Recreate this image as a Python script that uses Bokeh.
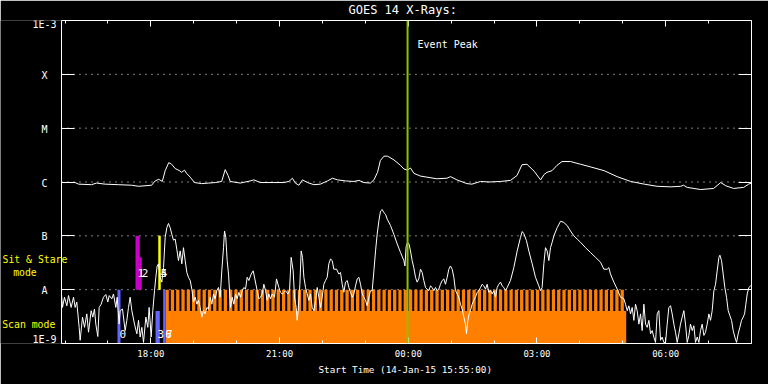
from datetime import datetime, timedelta
from bokeh.plotting import figure
from bokeh.models import (ColumnDataSource, FixedTicker, DatetimeTickFormatter, Range1d, Label, LabelSet,
                          Span, DatetimeAxis, LogAxis, CustomJSTickFormatter, Title)
from bokeh.core.properties import value
from bokeh.embed import file_html
from bokeh.resources import INLINE

# ---------------- data ----------------
START = datetime(2015, 1, 14, 15, 55)
END = datetime(2015, 1, 15, 8, 0)
EVENT_PEAK = datetime(2015, 1, 14, 23, 59)

TITLE = "GOES 14 X-Rays:"
X_LABEL = "Start Time (14-Jan-15 15:55:00)"
EVENT_LABEL = "Event Peak"
Y_TICKS = [1e-9, 1e-8, 1e-7, 1e-6, 1e-5, 1e-4, 1e-3]
Y_TICK_LABELS = ["1E-9", "A", "B", "C", "M", "X", "1E-3"]
X_MAJOR_TICKS = [datetime(2015, 1, 14, 18), datetime(2015, 1, 14, 21), datetime(2015, 1, 15, 0),
                 datetime(2015, 1, 15, 3), datetime(2015, 1, 15, 6)]
MODE_LABELS = ["Sit & Stare", "mode", "Scan mode"]

# GOES long channel (1-8 A): (minutes after start, log10 flux W/m^2)
xrs_long = [(0, -6.01), (19, -6.01), (24, -6.04), (42, -6.05), (49, -6.02), (61, -6.04), (80, -6.05),
            (98, -6.06), (108, -6.08), (126, -6.06), (131, -5.98), (136, -5.95), (141, -5.99), (145, -5.79),
            (150, -5.64), (154, -5.67), (159, -5.75), (165, -5.79), (168, -5.82), (172, -5.78), (175, -5.84),
            (180, -5.91), (186, -6.01), (196, -6.03), (206, -6.02), (215, -6.01), (224, -5.99), (229, -5.77),
            (233, -5.88), (236, -5.99), (250, -6.02), (264, -5.98), (269, -5.96), (278, -6.01), (297, -6.01),
            (311, -6.01), (318, -5.99), (323, -5.93), (327, -6.02), (332, -6.06), (337, -5.96), (344, -6.01),
            (353, -6.05), (362, -6.04), (372, -5.98), (379, -5.93), (386, -5.96), (397, -5.98), (409, -5.99),
            (416, -5.97), (423, -6.01), (432, -6.02), (437, -5.96), (442, -5.82), (446, -5.60), (451, -5.52),
            (456, -5.52), (465, -5.59), (474, -5.69), (479, -5.76), (484, -5.78), (488, -5.74), (493, -5.84),
            (502, -5.89), (511, -5.91), (525, -5.94), (539, -5.93), (544, -5.90), (553, -5.96), (567, -6.03),
            (574, -6.04), (586, -5.99), (598, -6.00), (614, -5.99), (628, -5.97), (637, -5.88), (644, -5.68),
            (651, -5.67), (661, -5.80), (670, -5.96), (675, -5.86), (679, -5.82), (686, -5.79), (693, -5.69),
            (700, -5.62), (712, -5.62), (726, -5.67), (740, -5.72), (759, -5.79), (777, -5.90), (796, -5.99),
            (815, -6.04), (833, -6.08), (852, -6.09), (866, -6.08), (870, -6.06), (875, -6.10), (894, -6.14),
            (912, -6.12), (922, -6.01), (929, -6.07), (940, -6.12), (954, -6.10), (961, -6.04), (965, -6.02)]

# GOES short channel (0.5-4 A): (minutes after start, log10 flux W/m^2)
xrs_short = [(0, -8.08), (1.4, -8.33), (4.2, -8.14), (7.5, -8.30), (9.8, -8.11), (13.5, -8.33), (16.8, -8.14),
             (19.1, -8.33), (21.4, -8.23), (24.7, -8.70), (26.1, -8.94), (29.4, -8.51), (32.2, -8.70),
             (35.4, -8.45), (37.8, -8.79), (41.5, -8.39), (43.8, -8.51), (46.1, -8.36), (48.0, -8.64),
             (50.8, -8.87), (52.7, -8.33), (55.5, -8.27), (58.7, -8.14), (62.0, -8.09), (64.8, -8.23),
             (66.7, -8.11), (70.4, -8.17), (72.7, -8.08), (76.0, -8.33), (77.9, -8.14), (80.6, -8.64),
             (82.0, -8.39), (85.3, -8.36), (89.0, -8.76), (91.4, -8.57), (93.7, -8.33), (96.0, -8.14),
             (98.4, -8.39), (102.1, -8.64), (105.4, -8.82), (107.7, -8.57), (110.0, -8.88), (112.4, -8.70),
             (114.7, -8.98), (118.0, -8.51), (120.7, -8.70), (122.6, -8.33), (125.4, -8.88), (127.7, -8.39),
             (130.1, -8.02), (131.9, -7.77), (133.8, -7.56), (135.7, -7.52), (138.0, -7.77), (140.3, -7.86),
             (142.7, -7.59), (145.0, -7.03), (147.3, -6.85), (149.6, -6.77), (152.0, -6.85), (154.3, -6.97),
             (156.6, -7.08), (159.0, -7.06), (161.3, -7.25), (163.6, -7.46), (166.0, -7.28), (168.3, -7.52),
             (170.6, -7.22), (173.0, -7.46), (175.3, -7.68), (177.6, -7.77), (180.0, -7.83), (182.3, -7.99),
             (184.6, -8.23), (187.0, -8.14), (189.3, -8.27), (191.6, -8.20), (193.9, -8.33), (196.3, -8.51),
             (198.6, -8.39), (200.9, -8.45), (203.3, -8.33), (205.6, -8.36), (207.9, -8.14), (210.3, -8.27),
             (212.6, -8.08), (214.9, -8.17), (217.2, -8.02), (219.6, -7.96), (221.9, -8.14), (224.2, -7.65),
             (226.6, -7.22), (228.0, -6.91), (229.8, -7.03), (231.7, -7.46), (233.6, -7.71), (236.4, -8.33),
             (238.7, -8.14), (241.1, -8.27), (243.4, -8.08), (245.7, -8.17), (248.1, -8.05), (250.4, -8.14),
             (252.7, -8.02), (255.0, -7.96), (257.4, -7.99), (259.7, -7.77), (262.0, -7.83), (265.3, -7.71),
             (268.1, -7.65), (270.4, -7.80), (273.7, -8.02), (276.0, -8.17), (278.4, -8.14), (280.7, -8.08),
             (283.0, -7.90), (285.4, -8.02), (287.7, -8.20), (290.0, -8.08), (292.3, -8.17), (294.7, -8.08),
             (297.9, -8.14), (300.7, -7.80), (304.0, -7.96), (306.3, -8.05), (308.7, -8.08), (313.3, -8.02),
             (316.6, -8.08), (318.9, -8.02), (321.2, -7.40), (324.0, -7.65), (325.9, -8.14), (328.2, -8.33),
             (329.6, -8.57), (331.0, -8.39), (333.4, -7.90), (335.2, -7.28), (337.1, -7.40), (339.0, -7.77),
             (341.3, -7.96), (343.6, -8.08), (346.0, -8.20), (348.3, -8.08), (350.6, -8.33), (353.0, -8.39),
             (355.3, -8.20), (357.6, -7.96), (359.9, -8.14), (362.3, -8.33), (364.6, -8.14), (366.9, -7.90),
             (369.3, -7.83), (371.6, -7.77), (373.9, -7.52), (376.3, -7.43), (378.6, -7.46), (380.9, -7.62),
             (384.7, -7.62), (387.9, -7.71), (390.2, -7.68), (392.6, -7.90), (394.9, -8.05), (397.2, -7.86),
             (399.6, -7.83), (401.9, -7.96), (404.2, -8.05), (406.6, -8.14), (408.9, -8.08), (411.2, -7.93),
             (413.6, -7.80), (415.9, -7.77), (418.2, -7.90), (420.6, -8.08), (422.9, -8.14), (425.2, -8.20),
             (427.5, -8.30), (429.9, -8.14), (432.2, -8.02), (434.5, -8.02), (436.9, -7.65), (439.2, -7.28),
             (441.5, -6.97), (443.9, -6.72), (446.2, -6.54), (448.5, -6.51), (450.9, -6.57), (453.2, -6.60),
             (455.5, -6.69), (460.2, -6.81), (464.8, -6.97), (469.5, -7.15), (474.2, -7.31), (478.8, -7.46),
             (480.3, -7.56), (482.0, -7.20), (484.0, -7.12), (486.0, -7.15), (488.1, -7.28), (490.4, -7.46),
             (492.7, -7.59), (495.1, -7.77), (497.4, -7.86), (499.7, -7.80), (502.1, -7.62), (504.4, -7.68),
             (506.7, -7.83), (509.1, -7.96), (511.4, -7.99), (513.7, -8.02), (516.1, -7.93), (518.4, -7.96),
             (520.7, -8.02), (523.1, -7.96), (525.4, -8.02), (527.7, -7.99), (530.0, -7.90), (532.4, -7.83),
             (534.7, -7.80), (537.0, -7.90), (539.4, -7.77), (541.7, -7.62), (544.0, -7.56), (546.4, -7.62),
             (548.7, -7.77), (551.0, -8.02), (553.4, -8.08), (555.7, -8.14), (558.0, -8.27), (560.3, -8.36),
             (562.7, -8.51), (565.0, -8.64), (566.4, -8.82), (568.3, -8.57), (570.1, -8.45), (572.0, -8.39),
             (574.3, -8.27), (576.7, -8.20), (579.0, -8.14), (581.3, -8.05), (583.7, -8.02), (586.0, -7.96),
             (588.3, -7.90), (590.6, -7.93), (593.0, -7.99), (595.3, -7.90), (597.6, -8.05), (600.0, -8.02),
             (602.3, -8.08), (604.6, -8.02), (607.0, -8.14), (609.3, -7.96), (611.6, -7.90), (614.0, -7.86),
             (616.3, -7.93), (618.6, -7.96), (620.9, -8.02), (623.3, -7.96), (627.9, -7.83), (632.6, -7.59),
             (637.3, -7.28), (641.9, -7.03), (644.3, -6.92), (646.6, -6.96), (650.3, -7.09), (653.6, -7.28),
             (658.3, -7.52), (662.9, -7.77), (667.6, -7.93), (669.9, -8.02), (672.2, -7.96), (674.6, -7.52),
             (676.9, -7.22), (679.2, -7.28), (681.6, -7.46), (683.9, -7.22), (686.2, -7.12), (688.6, -7.00),
             (693.2, -6.85), (697.9, -6.73), (702.5, -6.75), (707.2, -6.81), (711.9, -6.91), (716.5, -7.00),
             (721.2, -7.06), (725.9, -7.12), (732.9, -7.22), (739.9, -7.31), (746.9, -7.40), (753.9, -7.49),
             (758.5, -7.62), (763.2, -7.62), (765.5, -7.59), (767.8, -7.71), (772.5, -7.86), (777.2, -7.99),
             (781.8, -8.14), (786.5, -8.17), (788.8, -8.27), (791.2, -8.39), (793.5, -8.30), (795.8, -8.45),
             (798.1, -8.33), (800.5, -8.57), (802.8, -8.27), (805.1, -8.39), (807.5, -8.64), (809.8, -8.45),
             (812.1, -8.76), (814.5, -8.27), (816.8, -8.64), (819.1, -8.70), (821.5, -8.57), (823.8, -8.82),
             (826.1, -8.76), (828.4, -8.88), (830.8, -8.98), (833.1, -8.45), (835.4, -8.39), (837.8, -8.94),
             (840.1, -8.88), (842.4, -8.98), (844.8, -8.98), (847.1, -8.64), (849.4, -8.33), (851.8, -8.30),
             (854.1, -8.45), (856.4, -8.64), (858.7, -8.79), (861.1, -8.98), (863.4, -8.82), (865.7, -8.64),
             (868.1, -8.51), (870.4, -8.39), (872.7, -8.64), (875.1, -8.98), (877.4, -8.85), (879.7, -8.64),
             (882.1, -8.76), (884.4, -8.67), (886.7, -8.98), (889.1, -8.88), (891.4, -8.98), (893.7, -8.76),
             (896.0, -8.64), (898.4, -8.85), (900.7, -8.79), (903.0, -8.64), (905.4, -8.45), (907.7, -8.57),
             (910.0, -8.39), (912.4, -8.02), (914.7, -7.90), (917.0, -7.65), (919.4, -7.40), (920.8, -7.36),
             (923.1, -7.46), (925.4, -7.71), (927.7, -7.96), (930.1, -8.14), (932.4, -8.39), (934.7, -8.48),
             (937.1, -8.57), (939.4, -8.76), (941.7, -8.88), (944.1, -8.98), (946.4, -8.82), (948.7, -8.70),
             (951.1, -8.57), (953.4, -8.51), (955.3, -8.45), (957.1, -8.27), (959.0, -8.08), (961.3, -7.96),
             (963.7, -7.93), (965.0, -7.93)]

# Sit & Stare observations (minutes after start)
ss_ids = ["1", "2", "4", "5"]
ss_start = [103.5, 109.5, 135.7, 135.7]
ss_end = [109.5, 112.3, 138.5, 138.5]
ss_top = [1e-7, 4e-8, 1e-7, 1e-7]
ss_kind = ["magenta", "magenta", "yellow", "yellow"]

# Scan observations (minutes after start)
scan_ids = ["0", "3", "6"]
scan_start = [78.3, 131.5, 142.2]
scan_end = [82.5, 137.5, 145.5]
scan_top = [1e-8, 4e-9, 1e-8]

# Long scan series "7": overall span and individual rasters (minutes after start)
series7_id = "7"
series7_start, series7_end = 145.5, 789.8
raster_starts = [145.5, 152.9, 160.3, 167.7, 175.1, 182.5, 189.9, 197.3, 204.7, 212.1, 219.5, 226.9, 234.3,
                 241.7, 249.1, 256.5, 263.9, 271.3, 278.7, 286.1, 293.5, 300.9, 308.3, 315.7, 323.1, 330.5,
                 337.9, 345.3, 352.7, 360.1, 367.5, 374.9, 382.3, 389.7, 397.1, 404.5, 411.9, 419.3, 426.7,
                 434.1, 441.5, 448.9, 456.3, 463.7, 471.1, 478.5, 485.9, 493.3, 500.7, 508.1, 515.5, 522.9,
                 530.3, 537.7, 545.1, 552.5, 559.9, 567.3, 574.7, 582.1, 589.5, 596.9, 604.3, 611.7, 619.1,
                 626.5, 633.9, 641.3, 648.7, 656.1, 663.5, 670.9, 678.3, 685.7, 693.1, 700.5, 707.9, 715.3,
                 722.7, 730.1, 737.5, 744.9, 752.3, 759.7, 767.1, 774.5, 781.9]
raster_duration = 4.6

# ---------------- helpers / layout ----------------
EPOCH = datetime(1970, 1, 1)
MARGIN_MIN = 85.3          # left label margin expressed in time units (61 px)


def ms(dt):
    return (dt - EPOCH).total_seconds() * 1000.0


def at(minutes):
    return ms(START + timedelta(minutes=minutes))


MONO = "DejaVu Sans Mono"
FONT = value(MONO)
COLORS = {"magenta": "#c800c8", "yellow": "#ffff00", "blue": "#6464ff", "orange": "#ff8000"}

p = figure(width=768, height=384, x_axis_type="datetime", y_axis_type="log", y_axis_location=None,
           x_range=Range1d(at(-MARGIN_MIN), ms(END)), y_range=Range1d(1e-9, 1e-3),
           output_backend="svg", toolbar_location=None, title=TITLE,
           background_fill_color="black", border_fill_color="black",
           min_border_left=0, min_border_right=17, min_border_top=19, min_border_bottom=41)
p.outline_line_color = None
p.xgrid.visible = False
p.ygrid.visible = False

p.title.align = "left"
p.title.vertical_align = "top"
p.title.offset = 348
p.title.standoff = 4
p.title.text_color = "white"
p.title.text_font = MONO
p.title.text_font_size = "12px"
p.title.text_font_style = "normal"

y_ticker = FixedTicker(ticks=Y_TICKS, minor_ticks=[])
x_minor = [ms(datetime(2015, 1, 14, 16) + timedelta(hours=h)) for h in range(16)]
x_ticker = FixedTicker(ticks=[ms(t) for t in X_MAJOR_TICKS], minor_ticks=x_minor)
blank = CustomJSTickFormatter(code="return ''")
hhmm = DatetimeTickFormatter(hours="%H:%M", hourmin="%H:%M", minutes="%H:%M", minsec="%H:%M", days="%H:%M")
plot_bounds = (ms(START), ms(END))


def style_axis(ax, tick_in, minor_in):
    ax.axis_line_color = "white"
    ax.major_tick_line_color = "white"
    ax.minor_tick_line_color = "white" if minor_in else None
    ax.major_tick_in = tick_in
    ax.major_tick_out = 0
    ax.minor_tick_in = minor_in
    ax.minor_tick_out = 0


xa = p.xaxis[0]
xa.ticker = x_ticker
xa.formatter = hhmm
xa.bounds = plot_bounds
style_axis(xa, 6, 3)
xa.major_label_text_color = "white"
xa.major_label_text_font = MONO
xa.major_label_text_font_size = "9px"
xa.major_label_standoff = 5

p.add_layout(Title(text=X_LABEL, align="left", offset=318, standoff=0, text_color="white", text_font=MONO,
                   text_font_size="9.3px", text_font_style="normal"), "below")

top = DatetimeAxis(ticker=x_ticker, formatter=blank, bounds=plot_bounds)
style_axis(top, 6, 3)
top.major_label_text_font_size = "1px"
top.major_label_standoff = 0
p.add_layout(top, "above")

# left frame edge with decade ticks, at the start time
la = LogAxis(ticker=y_ticker, formatter=blank, fixed_location=ms(START))
style_axis(la, 13, 0)
la.major_label_text_font_size = "1px"
la.major_label_standoff = 0
p.add_layout(la, "left")

ra = LogAxis(ticker=y_ticker, formatter=blank)
style_axis(ra, 13, 0)
ra.major_label_text_font_size = "1px"
ra.major_label_standoff = 0
p.add_layout(ra, "right")

# dotted decade guide lines
levels = Y_TICKS[1:-1]
p.segment(x0=[ms(START)] * len(levels), x1=[ms(END)] * len(levels), y0=levels, y1=levels,
          line_color="white", line_width=1, line_dash="1 5")

# y tick labels (centred in the margin; the end labels are kept inside the frame height)
ylab_x = at(-23.8)
letter_src = ColumnDataSource(dict(x=[ylab_x] * len(levels), y=levels, text=Y_TICK_LABELS[1:-1]))
p.add_layout(LabelSet(x="x", y="y", text="text", source=letter_src, text_align="center",
                      text_baseline="middle", text_color="white", text_font=FONT, text_font_size="10px",
                      y_offset=-1))
for lab, yv in [(Y_TICK_LABELS[0], 1.19e-9), (Y_TICK_LABELS[-1], 8.4e-4)]:
    p.add_layout(Label(x=ylab_x, y=yv, text=lab, text_align="center", text_baseline="middle",
                       text_color="white", text_font=MONO, text_font_size="10px"))

# yellow mode labels: (text, flux level, left edge in minutes from start)
for txt, yv, xl in [(MODE_LABELS[0], 3.6e-8, -82.5), (MODE_LABELS[1], 2.09e-8, -67.6),
                    (MODE_LABELS[2], 2.25e-9, -82.9)]:
    p.add_layout(Label(x=at(xl), y=yv, text=txt, text_color="#ffff00", text_font=MONO,
                       text_font_size="9.8px", text_baseline="middle"))

# ---------------- observation bars ----------------
p.quad(left=at(series7_start), right=at(series7_end), bottom=1e-9, top=4e-9,
       fill_color=COLORS["orange"], line_color=None)
p.quad(left=[at(s) for s in raster_starts], right=[at(s + raster_duration) for s in raster_starts],
       bottom=4e-9, top=1e-8, fill_color=COLORS["orange"], line_color=None)
p.quad(left=[at(s) for s in scan_start], right=[at(e) for e in scan_end],
       bottom=1e-9, top=scan_top, fill_color=COLORS["blue"], line_color=None)
p.quad(left=[at(s) for s in ss_start], right=[at(e) for e in ss_end],
       bottom=1e-8, top=ss_top, fill_color=[COLORS[k] for k in ss_kind], line_color=None)

# ---------------- curves ----------------
p.line([at(m) for m, _ in xrs_long], [10 ** v for _, v in xrs_long], line_color="white", line_width=1)
p.line([at(m) for m, _ in xrs_short], [10 ** v for _, v in xrs_short], line_color="white", line_width=1)

# observation ids
p.text(x=[at(s) for s in ss_start], y=[2.07e-8] * len(ss_ids), text=ss_ids, x_offset=2,
       text_color="white", text_font=FONT, text_font_size="11px", text_baseline="middle")
p.text(x=[at(s) for s in scan_start] + [at(series7_start) - 120000], y=[1.53e-9] * 4,
       text=scan_ids + [series7_id], x_offset=2,
       text_color="white", text_font=FONT, text_font_size="11px", text_baseline="middle")

# event peak
p.add_layout(Span(location=ms(EVENT_PEAK), dimension="height", line_color="#8cc000", line_width=2))
p.add_layout(Label(x=ms(EVENT_PEAK), y=3.6e-4, x_offset=10, text=EVENT_LABEL, text_color="white",
                   text_font=MONO, text_font_size="10px", text_baseline="middle"))

open("out.html", "w").write(file_html(p, INLINE))
